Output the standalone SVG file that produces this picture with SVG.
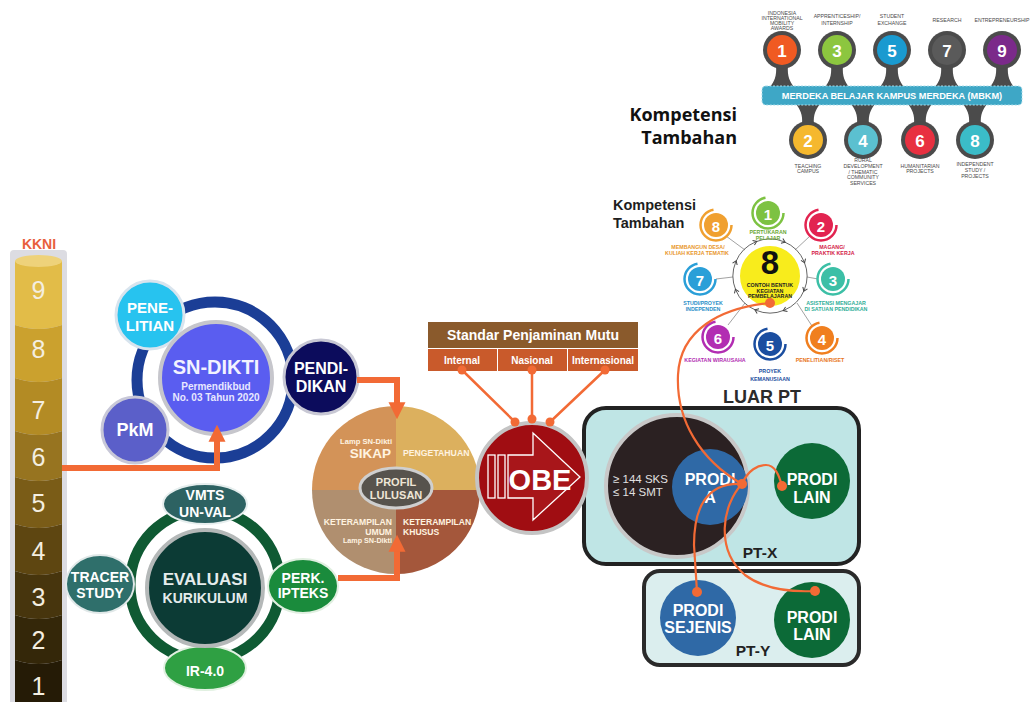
<svg xmlns="http://www.w3.org/2000/svg" width="1035" height="702" viewBox="0 0 1035 702">
<style>
.t{font-family:"Liberation Sans",Arial,sans-serif;font-weight:bold;text-anchor:middle;dominant-baseline:central}
.w{fill:#ffffff}
.kk{font-family:"Liberation Sans",Arial,sans-serif;font-size:25px;fill:#f4eee0;text-anchor:middle;dominant-baseline:central}
.or{stroke:#f26a35;fill:none}
.dot{fill:#f26a35}
.sm{font-family:"Liberation Sans",Arial,sans-serif;font-size:5.2px;fill:#4a4a4a;text-anchor:middle;dominant-baseline:central}
.sl{font-family:"Liberation Sans",Arial,sans-serif;font-weight:bold;font-size:5.3px;text-anchor:middle;dominant-baseline:central}
.pin{fill:#4b4b4b}
.gl{stroke:#8a8a8a;stroke-width:0.8;fill:none}
.kt{font-family:"Open Sans","Noto Sans",sans-serif;font-weight:bold;font-size:18px;fill:#111;text-anchor:end;dominant-baseline:central}
</style>
<defs>
<marker id="ah" viewBox="0 0 10 10" refX="1" refY="5" markerWidth="17" markerHeight="18" markerUnits="userSpaceOnUse" orient="auto">
<path d="M0,0 L10,5 L0,10 Z" fill="#f26a35"/>
</marker>
<marker id="ch" viewBox="0 0 6 6" refX="3" refY="3" markerWidth="6" markerHeight="6" markerUnits="userSpaceOnUse" orient="auto">
<path d="M0.5,0.5 L4,3 L0.5,5.5" fill="none" stroke="#444" stroke-width="1"/>
</marker>
</defs>

<g id="kkni">
<rect x="10" y="250" width="57" height="460" rx="4" fill="#dcdce2"/>
<path d="M15,261 L62,261 L62,325 Q38.5,333 15,325 Z" fill="#e2bc48"/>
<path d="M15,325 Q38.5,333 62,325 L62,378 Q38.5,386 15,378 Z" fill="#cba12e"/>
<path d="M15,378 Q38.5,386 62,378 L62,431 Q38.5,439 15,431 Z" fill="#b38b24"/>
<path d="M15,431 Q38.5,439 62,431 L62,477 Q38.5,485 15,477 Z" fill="#977420"/>
<path d="M15,477 Q38.5,485 62,477 L62,524 Q38.5,532 15,524 Z" fill="#7a5c17"/>
<path d="M15,524 Q38.5,532 62,524 L62,571 Q38.5,579 15,571 Z" fill="#5e4611"/>
<path d="M15,571 Q38.5,579 62,571 L62,615 Q38.5,623 15,615 Z" fill="#47350d"/>
<path d="M15,615 Q38.5,623 62,615 L62,660 Q38.5,668 15,660 Z" fill="#342709"/>
<path d="M15,660 Q38.5,668 62,660 L62,710 L15,710 Z" fill="#251b06"/>
<ellipse cx="38.5" cy="261" rx="23.5" ry="6" fill="#eed27a"/>
<text class="t" x="39" y="244" font-size="14" fill="#e8603c">KKNI</text>
<text class="kk" x="38.5" y="290">9</text>
<text class="kk" x="38.5" y="349">8</text>
<text class="kk" x="38.5" y="410">7</text>
<text class="kk" x="38.5" y="457">6</text>
<text class="kk" x="38.5" y="503">5</text>
<text class="kk" x="38.5" y="551">4</text>
<text class="kk" x="38.5" y="597">3</text>
<text class="kk" x="38.5" y="640">2</text>
<text class="kk" x="38.5" y="686">1</text>
</g>

<g id="mbkm">
<path class="pin" d="M776,66 C777,76 774,82 770,87 L794,87 C790,82 787,76 788,66 Z"/>
<path class="pin" d="M831,66 C832,76 829,82 825,87 L849,87 C845,82 842,76 843,66 Z"/>
<path class="pin" d="M886,66 C887,76 884,82 880,87 L904,87 C900,82 897,76 898,66 Z"/>
<path class="pin" d="M941,66 C942,76 939,82 935,87 L959,87 C955,82 952,76 953,66 Z"/>
<path class="pin" d="M996,66 C997,76 994,82 990,87 L1014,87 C1010,82 1007,76 1008,66 Z"/>
<path class="pin" d="M796,104 C800,109 803,115 802,124 L814,124 C813,115 816,109 820,104 Z"/>
<path class="pin" d="M851,104 C855,109 858,115 857,124 L869,124 C868,115 871,109 875,104 Z"/>
<path class="pin" d="M908,104 C912,109 915,115 914,124 L926,124 C925,115 928,109 932,104 Z"/>
<path class="pin" d="M963,104 C967,109 970,115 969,124 L981,124 C980,115 983,109 987,104 Z"/>
<rect x="762" y="86" width="260" height="19" rx="4" fill="#3ea7c6" stroke="#a8dcea" stroke-width="1" stroke-dasharray="2 1.5"/>
<text class="t w" x="892" y="96" font-size="9.2">MERDEKA BELAJAR KAMPUS MERDEKA (MBKM)</text>
<circle class="pin" cx="782" cy="50" r="19"/><circle cx="782" cy="50" r="15" fill="#f05a22"/><text class="t w" x="782" y="51" font-size="17">1</text>
<circle class="pin" cx="837" cy="50" r="19"/><circle cx="837" cy="50" r="15" fill="#8cc63f"/><text class="t w" x="837" y="51" font-size="17">3</text>
<circle class="pin" cx="892" cy="50" r="19"/><circle cx="892" cy="50" r="15" fill="#1a9ad0"/><text class="t w" x="892" y="51" font-size="17">5</text>
<circle class="pin" cx="947" cy="50" r="19"/><circle cx="947" cy="50" r="15" fill="#5a5a5a"/><text class="t w" x="947" y="51" font-size="17">7</text>
<circle class="pin" cx="1002" cy="50" r="19"/><circle cx="1002" cy="50" r="15" fill="#7b2a8a"/><text class="t w" x="1002" y="51" font-size="17">9</text>
<circle class="pin" cx="808" cy="140" r="19"/><circle cx="808" cy="140" r="15" fill="#f5b82e"/><text class="t w" x="808" y="141" font-size="17">2</text>
<circle class="pin" cx="863" cy="140" r="19"/><circle cx="863" cy="140" r="15" fill="#5bc0d0"/><text class="t w" x="863" y="141" font-size="17">4</text>
<circle class="pin" cx="920" cy="140" r="19"/><circle cx="920" cy="140" r="15" fill="#e83040"/><text class="t w" x="920" y="141" font-size="17">6</text>
<circle class="pin" cx="975" cy="140" r="19"/><circle cx="975" cy="140" r="15" fill="#3bbcc8"/><text class="t w" x="975" y="141" font-size="17">8</text>
<text class="sm" x="782" y="13">INDONESIA</text>
<text class="sm" x="782" y="18">INTERNATIONAL</text>
<text class="sm" x="782" y="23">MOBILITY</text>
<text class="sm" x="782" y="28">AWARDS</text>
<text class="sm" x="837" y="16">APPRENTICESHIP/</text>
<text class="sm" x="837" y="23">INTERNSHIP</text>
<text class="sm" x="892" y="16">STUDENT</text>
<text class="sm" x="892" y="23">EXCHANGE</text>
<text class="sm" x="947" y="20">RESEARCH</text>
<text class="sm" x="1002" y="20">ENTREPRENEURSHIP</text>
<text class="sm" x="808" y="166">TEACHING</text>
<text class="sm" x="808" y="171">CAMPUS</text>
<text class="sm" x="863" y="160">RURAL</text>
<text class="sm" x="863" y="166">DEVELOPMENT</text>
<text class="sm" x="863" y="171.5">/ THEMATIC</text>
<text class="sm" x="863" y="177">COMMUNITY</text>
<text class="sm" x="863" y="183">SERVICES</text>
<text class="sm" x="920" y="166">HUMANITARIAN</text>
<text class="sm" x="920" y="171">PROJECTS</text>
<text class="sm" x="975" y="164">INDEPENDENT</text>
<text class="sm" x="975" y="170">STUDY /</text>
<text class="sm" x="975" y="176">PROJECTS</text>
</g>

<g id="kompetensi-1">
<text class="kt" x="737" y="114">Kompetensi</text>
<text class="kt" x="737" y="137">Tambahan</text>
</g>

<g id="kompetensi-2">
<text x="613" y="205" font-family="'Liberation Sans',Arial,sans-serif" font-weight="bold" font-size="14.5" fill="#1e1e1e" dominant-baseline="central">Kompetensi</text>
<text x="613" y="223" font-family="'Liberation Sans',Arial,sans-serif" font-weight="bold" font-size="14.5" fill="#1e1e1e" dominant-baseline="central">Tambahan</text>
</g>

<g id="delapan-contoh">
<line class="gl" x1="726" y1="236" x2="745" y2="250"/>
<line class="gl" x1="810" y1="236" x2="795" y2="250"/>
<line class="gl" x1="716" y1="279" x2="733" y2="277"/>
<line class="gl" x1="818" y1="279" x2="807" y2="277"/>
<line class="gl" x1="728" y1="325" x2="745" y2="303"/>
<line class="gl" x1="812" y1="326" x2="797" y2="303"/>
<circle cx="770" cy="276" r="31" fill="#f8ec1c" stroke="#ffffff" stroke-width="2"/>
<path d="M784.2,241.8 A37,37 0 0 1 804.2,261.8 A37,37 0 0 1 804.2,290.2 A37,37 0 0 1 784.2,310.2 A37,37 0 0 1 755.8,310.2 A37,37 0 0 1 735.8,290.2 A37,37 0 0 1 735.8,261.8 A37,37 0 0 1 755.8,241.8 A37,37 0 0 1 784.2,241.8" fill="none" stroke="#555" stroke-width="0.9" marker-start="url(#ch)" marker-mid="url(#ch)"/>
<text x="770" y="274" font-family="'Liberation Sans',Arial,sans-serif" font-weight="bold" font-size="33" fill="#111" text-anchor="middle">8</text>
<text class="sl" x="770" y="285" fill="#222">CONTOH BENTUK</text>
<text class="sl" x="770" y="290.5" fill="#222">KEGIATAN</text>
<text class="sl" x="770" y="296" fill="#222">PEMBELAJARAN</text>

<circle cx="768" cy="213" r="12" fill="#7dc242"/><circle cx="768" cy="213" r="15.5" fill="none" stroke="#7dc242" stroke-width="2.5" stroke-dasharray="70 27"/><text class="t w" x="768" y="214" font-size="15">1</text>
<text class="sl" x="768" y="232" fill="#6aa833">PERTUKARAN</text><text class="sl" x="768" y="238" fill="#6aa833">PELAJAR</text>

<circle cx="821" cy="225" r="12" fill="#e22450"/><circle cx="821" cy="225" r="15.5" fill="none" stroke="#e22450" stroke-width="2.5" stroke-dasharray="70 27"/><text class="t w" x="821" y="226" font-size="15">2</text>
<text class="sl" x="832" y="247" fill="#d42048">MAGANG/</text><text class="sl" x="833" y="253" fill="#d42048">PRAKTIK KERJA</text>

<circle cx="833" cy="279" r="12" fill="#3cbfa6"/><circle cx="833" cy="279" r="15.5" fill="none" stroke="#3cbfa6" stroke-width="2.5" stroke-dasharray="70 27"/><text class="t w" x="833" y="280" font-size="15">3</text>
<text class="sl" x="836" y="303" fill="#2fae98">ASISTENSI MENGAJAR</text><text class="sl" x="836" y="309" fill="#2fae98">DI SATUAN PENDIDIKAN</text>

<circle cx="822" cy="338" r="12" fill="#f07f1f"/><circle cx="822" cy="338" r="15.5" fill="none" stroke="#f07f1f" stroke-width="2.5" stroke-dasharray="70 27"/><text class="t w" x="822" y="339" font-size="15">4</text>
<text class="sl" x="820" y="360" fill="#e8761a">PENELITIAN/RISET</text>

<circle cx="770" cy="344" r="12" fill="#1b4ea0"/><circle cx="770" cy="344" r="15.5" fill="none" stroke="#1b4ea0" stroke-width="2.5" stroke-dasharray="70 27"/><text class="t w" x="770" y="345" font-size="15">5</text>
<text class="sl" x="770" y="371" fill="#1b4ea0">PROYEK</text><text class="sl" x="770" y="379" fill="#1b4ea0">KEMANUSIAAN</text>

<circle cx="718" cy="337" r="12" fill="#b22db2"/><circle cx="718" cy="337" r="15.5" fill="none" stroke="#b22db2" stroke-width="2.5" stroke-dasharray="70 27"/><text class="t w" x="718" y="338" font-size="15">6</text>
<text class="sl" x="715" y="360" fill="#b22db2">KEGIATAN WIRAUSAHA</text>

<circle cx="700" cy="279" r="12" fill="#2a9fd8"/><circle cx="700" cy="279" r="15.5" fill="none" stroke="#2a9fd8" stroke-width="2.5" stroke-dasharray="70 27"/><text class="t w" x="700" y="280" font-size="15">7</text>
<text class="sl" x="703" y="303" fill="#2a8fc8">STUDI/PROYEK</text><text class="sl" x="703" y="309" fill="#2a8fc8">INDEPENDEN</text>

<circle cx="716" cy="225" r="12" fill="#f0a030"/><circle cx="716" cy="225" r="15.5" fill="none" stroke="#f0a030" stroke-width="2.5" stroke-dasharray="70 27"/><text class="t w" x="716" y="226" font-size="15">8</text>
<text class="sl" x="698" y="247" fill="#e8962a">MEMBANGUN DESA/</text><text class="sl" x="697" y="253" fill="#e8962a">KULIAH KERJA TEMATIK</text>
</g>

<g id="sn-dikti">
<circle cx="215" cy="380" r="78" fill="none" stroke="#1b3e96" stroke-width="11"/>
<g id="penelitian"><circle cx="150" cy="315" r="34" fill="#27c3ef" stroke="#d8e4ee" stroke-width="3"/>
<text class="t w" x="150" y="307" font-size="15">PENE-</text><text class="t w" x="150" y="325" font-size="15">LITIAN</text></g>
<g id="pkm"><circle cx="135" cy="430" r="33" fill="#5b5fc9" stroke="#c8c8d8" stroke-width="3"/>
<text class="t w" x="135" y="430" font-size="18">PkM</text></g>
<g id="pendidikan"><circle cx="321" cy="377" r="37" fill="#0c0c5c" stroke="#c8c8d4" stroke-width="3"/>
<text class="t w" x="321" y="368" font-size="16">PENDI-</text><text class="t w" x="321" y="386" font-size="16">DIKAN</text></g>
<g id="sndikti-core"><circle cx="216" cy="378" r="56" fill="#5a5df0" stroke="#c6c6cc" stroke-width="4"/>
<text class="t" x="216" y="367" font-size="20" fill="#f2f2ff">SN-DIKTI</text>
<text class="t" x="216" y="386" font-size="10" fill="#e8e8ff">Permendikbud</text>
<text class="t" x="216" y="397" font-size="10" fill="#e8e8ff">No. 03 Tahun 2020</text></g>
</g>

<g id="evaluasi">
<circle cx="205" cy="585" r="75" fill="none" stroke="#0f5a33" stroke-width="11"/>
<g id="vmts"><ellipse cx="205" cy="504" rx="42" ry="20" fill="#2d6262" stroke="#e6eeee" stroke-width="2"/>
<text class="t w" x="205" y="495" font-size="14">VMTS</text><text class="t w" x="205" y="512" font-size="14">UN-VAL</text></g>
<g id="tracer"><ellipse cx="100" cy="584" rx="34" ry="29" fill="#2f6f6b" stroke="#e0e8e8" stroke-width="2"/>
<text class="t w" x="100" y="577" font-size="14">TRACER</text><text class="t w" x="100" y="593" font-size="14">STUDY</text></g>
<g id="perk"><ellipse cx="303" cy="586" rx="35" ry="27" fill="#1a8b3c" stroke="#e0efe0" stroke-width="2"/>
<text class="t w" x="303" y="578" font-size="14">PERK.</text><text class="t w" x="303" y="593" font-size="14">IPTEKS</text></g>
<g id="ir40"><ellipse cx="205" cy="668" rx="41" ry="22" fill="#2fa043" stroke="#e0f0e0" stroke-width="2"/>
<text class="t w" x="205" y="671" font-size="14">IR-4.0</text></g>
<g id="evaluasi-core"><circle cx="205" cy="588" r="58" fill="#0c3b35" stroke="#b4b8b8" stroke-width="4"/>
<text class="t" x="205" y="579" font-size="17" fill="#e4ecec">EVALUASI</text>
<text class="t" x="205" y="598" font-size="14" fill="#e4ecec">KURIKULUM</text></g>
</g>

<g id="profil">
<path d="M396,490 L312,490 A84,84 0 0 1 396,406 Z" fill="#d39358"/>
<path d="M396,490 L396,406 A84,84 0 0 1 480,490 Z" fill="#dcb05e"/>
<path d="M396,490 L480,490 A84,84 0 0 1 396,574 Z" fill="#a4573b"/>
<path d="M396,490 L396,574 A84,84 0 0 1 312,490 Z" fill="#b08f6f"/>
<text x="392" y="441" font-family="'Liberation Sans',Arial,sans-serif" font-weight="bold" font-size="7.6" fill="#fff3e0" text-anchor="end" dominant-baseline="central">Lamp SN-Dikti</text>
<text x="391" y="453" font-family="'Liberation Sans',Arial,sans-serif" font-weight="bold" font-size="13.5" fill="#fff3e0" text-anchor="end" dominant-baseline="central">SIKAP</text>
<text x="403" y="453" font-family="'Liberation Sans',Arial,sans-serif" font-weight="bold" font-size="8.7" fill="#fff3e0" dominant-baseline="central">PENGETAHUAN</text>
<text x="392" y="522" font-family="'Liberation Sans',Arial,sans-serif" font-weight="bold" font-size="8.6" fill="#fff3e0" text-anchor="end" dominant-baseline="central">KETERAMPILAN</text>
<text x="392" y="532" font-family="'Liberation Sans',Arial,sans-serif" font-weight="bold" font-size="8.6" fill="#fff3e0" text-anchor="end" dominant-baseline="central">UMUM</text>
<text x="392" y="540" font-family="'Liberation Sans',Arial,sans-serif" font-weight="bold" font-size="7.2" fill="#fff3e0" text-anchor="end" dominant-baseline="central">Lamp SN-Dikti</text>
<text x="403" y="522" font-family="'Liberation Sans',Arial,sans-serif" font-weight="bold" font-size="8.6" fill="#fff3e0" dominant-baseline="central">KETERAMPILAN</text>
<text x="403" y="532" font-family="'Liberation Sans',Arial,sans-serif" font-weight="bold" font-size="8.6" fill="#fff3e0" dominant-baseline="central">KHUSUS</text>
<ellipse cx="396" cy="488" rx="36" ry="20" fill="#57534d" stroke="#cfcfcf" stroke-width="3"/>
<text class="t" x="396" y="482" font-size="11" fill="#efe6d6">PROFIL</text>
<text class="t" x="396" y="495" font-size="11" fill="#efe6d6">LULUSAN</text>
</g>

<g id="standar">
<rect x="428" y="322" width="210" height="26" fill="#8a5a2c"/>
<text class="t w" x="533" y="335" font-size="14">Standar Penjaminan Mutu</text>
<rect x="428" y="349" width="69" height="22" fill="#c95a2b"/>
<rect x="498" y="349" width="69" height="22" fill="#c95a2b"/>
<rect x="568" y="349" width="70" height="22" fill="#c95a2b"/>
<text class="t w" x="462" y="360" font-size="10">Internal</text>
<text class="t w" x="532" y="360" font-size="10">Nasional</text>
<text class="t w" x="603" y="360" font-size="10">Internasional</text>
</g>

<g id="luar-pt">
<text class="t" x="762" y="397" font-size="18" fill="#2b2b2b">LUAR PT</text>
<g id="pt-x"><rect x="584" y="408" width="275" height="156" rx="22" fill="#bfe5e5" stroke="#222" stroke-width="4"/>
<text class="t" x="760" y="552" font-size="15.5" fill="#222">PT-X</text></g>
<g id="pt-y"><rect x="644" y="571" width="215" height="94" rx="16" fill="#dbeeee" stroke="#2a2a2a" stroke-width="4"/>
<text class="t" x="753" y="650" font-size="15.5" fill="#222">PT-Y</text></g>
<g id="sks"><circle cx="677" cy="486" r="71" fill="#2b2122" stroke="#c8c8c8" stroke-width="4"/>
<text x="613" y="479" font-family="'Liberation Sans','DejaVu Sans',sans-serif" font-size="11.5" fill="#e0e0e0" dominant-baseline="central">≥ 144 SKS</text>
<text x="613" y="492" font-family="'Liberation Sans','DejaVu Sans',sans-serif" font-size="11.5" fill="#e0e0e0" dominant-baseline="central">≤ 14 SMT</text></g>
<g id="prodi-a"><circle cx="710" cy="487" r="38" fill="#2f69a6"/>
<text class="t w" x="710" y="479" font-size="16">PRODI</text><text class="t w" x="710" y="497" font-size="16">A</text></g>
<g id="prodi-lain-x"><circle cx="812" cy="481" r="38" fill="#0c6a37"/>
<text class="t w" x="812" y="479" font-size="16">PRODI</text><text class="t w" x="812" y="497" font-size="16">LAIN</text></g>
<g id="prodi-sejenis"><circle cx="698" cy="618" r="38" fill="#2f69a6"/>
<text class="t w" x="698" y="610" font-size="16">PRODI</text><text class="t w" x="698" y="627" font-size="16">SEJENIS</text></g>
<g id="prodi-lain-y"><circle cx="812" cy="620" r="38" fill="#0c6a37"/>
<text class="t w" x="812" y="617" font-size="16">PRODI</text><text class="t w" x="812" y="634" font-size="16">LAIN</text></g>
</g>

<g id="obe">
<circle cx="532" cy="478" r="55" fill="#a00d12" stroke="#c4c4c4" stroke-width="4"/>
<polygon points="508,455 533,455 533,433 580,477 533,520 533,498 508,498" fill="#a8161a" stroke="#ffffff" stroke-width="1.3"/>
<rect x="488" y="455" width="7" height="43" fill="none" stroke="#ffffff" stroke-width="1.3"/>
<rect x="498" y="455" width="7" height="43" fill="none" stroke="#ffffff" stroke-width="1.3"/>
<text class="t w" x="540" y="480" font-size="29">OBE</text>
</g>

<g id="connectors">
<path class="or" d="M62,468 H217 V440" stroke-width="6" marker-end="url(#ah)"/>
<path class="or" d="M357,380 H397 V404" stroke-width="6" marker-end="url(#ah)"/>
<path class="or" d="M338,578 H397 V550" stroke-width="6" marker-end="url(#ah)"/>
<path class="or" d="M462,370 L515,422 M532,370 L532,419 M605,370 L550,422" stroke-width="2.5"/>
<circle class="dot" cx="462" cy="370" r="4.5"/><circle class="dot" cx="532" cy="370" r="4.5"/><circle class="dot" cx="605" cy="370" r="4.5"/>
<circle class="dot" cx="515" cy="422" r="4.5"/><circle class="dot" cx="532" cy="419" r="4.5"/><circle class="dot" cx="550" cy="422" r="4.5"/>
<path class="or" d="M770,303 C720,308 680,330 678,375 C676,420 700,460 742,484" stroke-width="2.2"/>
<path class="or" d="M742,484 C748,470 758,465 766,465 C775,465 779,475 782,486" stroke-width="2.2"/>
<path class="or" d="M742,484 C705,482 694,510 694,545 L697,592" stroke-width="2.2"/>
<path class="or" d="M742,484 C722,505 715,550 745,575 C765,590 795,592 815,591" stroke-width="2.2"/>
<circle class="dot" cx="770" cy="303" r="5"/><circle class="dot" cx="742" cy="484" r="5"/>
<circle class="dot" cx="782" cy="486" r="5"/><circle class="dot" cx="697" cy="592" r="5"/><circle class="dot" cx="815" cy="591" r="5"/>
</g>
</svg>
